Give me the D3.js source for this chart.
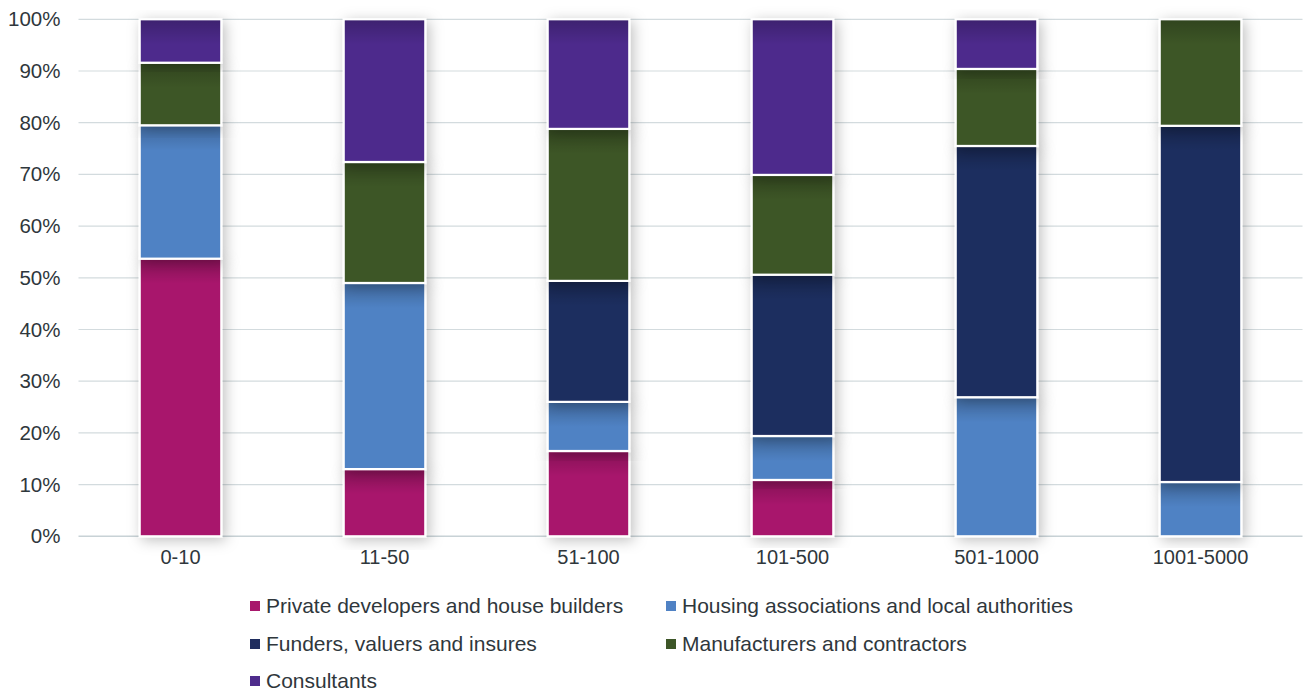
<!DOCTYPE html>
<html>
<head>
<meta charset="utf-8">
<script src="https://cdn.jsdelivr.net/npm/d3@7"></script>
<style>
  body { margin: 0; background: #fff; }
  text { font-family: "Liberation Sans", Arial, sans-serif; }
</style>
</head>
<body>
<svg id="chart" width="1304" height="695"></svg>
<script>
// categories and series (percent shares)
const sizes = ['0-10', '11-50', '51-100', '101-500', '501-1000', '1001-5000'];
const seriesNames = [
    'Private developers and house builders',
    'Housing associations and local authorities',
    'Funders, valuers and insures',
    'Manufacturers and contractors',
    'Consultants'
];
const privateDev = [53.7, 13.0, 16.5, 10.9, 0, 0];
const housing = [25.8, 36.0, 9.5, 8.5, 26.9, 10.5];
const funders = [0, 0, 23.4, 31.2, 48.6, 68.9];
const manufacturers = [12.1, 23.4, 29.4, 19.3, 14.9, 20.6];
const consultants = [8.4, 27.6, 21.2, 30.1, 9.6, 0];
const colors = ['#a8186c', '#5082c4', '#1f2d5e', '#3d5628', '#4e2c8c'];
const yTicks = [0, 10, 20, 30, 40, 50, 60, 70, 80, 90, 100];

const svg = d3.select('#chart');
const margin = {left: 78.5, right: 1.5, top: 19.3, bottom: 158.7};
const width = 1304 - margin.left - margin.right;
const height = 695 - margin.top - margin.bottom;

const defs = svg.append('defs');
let shadow = defs.append('filter')
    .attr('id', 'shadow')
    .attr('x', '-40%').attr('y', '-20%')
    .attr('width', '180%').attr('height', '140%');
shadow.append('feDropShadow')
    .attr('dx', 3).attr('dy', 3)
    .attr('stdDeviation', 7)
    .attr('flood-color', '#000')
    .attr('flood-opacity', 0.25);

let topShade = defs.append('linearGradient')
    .attr('id', 'topShade')
    .attr('x1', 0).attr('y1', 0).attr('x2', 0).attr('y2', 1)
    .attr('gradientUnits', 'objectBoundingBox');
topShade.append('stop').attr('offset', 0)
    .attr('stop-color', '#000').attr('stop-opacity', 0.2);
topShade.append('stop').attr('offset', 1)
    .attr('stop-color', '#000').attr('stop-opacity', 0);

const g = svg.append('g')
    .attr('transform', 'translate(' + margin.left + ',' + margin.top + ')');

const x = d3.scaleBand()
    .domain(sizes)
    .range([0, width])
    .paddingInner(0.6)
    .paddingOuter(0.3);

const y = d3.scaleLinear()
    .domain([0, 100])
    .range([height, 0]);

// gridlines
g.append('g')
    .selectAll('line')
    .data(yTicks.slice(1))
    .enter().append('line')
    .attr('x1', 0).attr('x2', width)
    .attr('y1', d => y(d)).attr('y2', d => y(d))
    .style('stroke', '#d3dbde')
    .style('stroke-width', 1.2);

// y axis labels
const yAxis = g.append('g')
    .call(d3.axisLeft(y).tickValues(yTicks)
        .tickFormat(d => d + '%').tickSize(0).tickPadding(18));
yAxis.select('.domain').remove();
yAxis.selectAll('text')
    .style('font-size', '20.5px')
    .style('fill', '#2f373c');

// baseline
g.append('line')
    .attr('x1', 0).attr('x2', width)
    .attr('y1', y(0)).attr('y2', y(0))
    .style('stroke', '#c8d2d6')
    .style('stroke-width', 1.5);

// stacked data
const table = sizes.map(function(s, i) {
    return {
        size: s,
        s0: privateDev[i], s1: housing[i], s2: funders[i],
        s3: manufacturers[i], s4: consultants[i]
    };
});
const keys = ['s0', 's1', 's2', 's3', 's4'];
const stacked = d3.stack().keys(keys)(table);

const bars = g.append('g');
stacked.forEach(function(layer, li) {
    let segs = layer.filter(d => d[1] - d[0] > 0);
    let grp = bars.append('g');
    grp.selectAll('rect.seg')
        .data(segs)
        .enter().append('rect')
        .attr('class', 'seg')
        .attr('x', d => x(d.data.size))
        .attr('y', d => y(d[1]))
        .attr('width', x.bandwidth())
        .attr('height', d => y(d[0]) - y(d[1]))
        .style('fill', colors[li])
        .style('stroke', '#fff')
        .style('stroke-width', 2.2)
        .style('filter', 'url(#shadow)');
    grp.selectAll('rect.shade')
        .data(segs)
        .enter().append('rect')
        .attr('class', 'shade')
        .attr('x', d => x(d.data.size) + 1.1)
        .attr('y', d => y(d[1]) + 1.1)
        .attr('width', x.bandwidth() - 2.2)
        .attr('height', d => Math.min(24, y(d[0]) - y(d[1]) - 2.2))
        .style('fill', 'url(#topShade)');
});

// x axis labels
const xAxis = g.append('g')
    .attr('transform', 'translate(0,' + height + ')')
    .call(d3.axisBottom(x).tickSize(0).tickPadding(14));
xAxis.select('.domain').remove();
xAxis.selectAll('text')
    .style('font-size', '20px')
    .style('fill', '#2f373c');

// legend
const legendPos = [
    [250, 606], [666, 606],
    [250, 644], [666, 644],
    [250, 681]
];
const legend = svg.append('g')
    .selectAll('g')
    .data(seriesNames)
    .enter().append('g')
    .attr('transform', (d, i) => 'translate(' + legendPos[i][0] + ',' + legendPos[i][1] + ')');
legend.append('rect')
    .attr('x', 0).attr('y', -5)
    .attr('width', 10).attr('height', 10)
    .style('fill', (d, i) => colors[i]);
legend.append('text')
    .attr('x', 16)
    .attr('dy', '.35em')
    .style('font-size', '21px')
    .style('fill', '#2f373c')
    .text(d => d);
</script>
</body>
</html>
